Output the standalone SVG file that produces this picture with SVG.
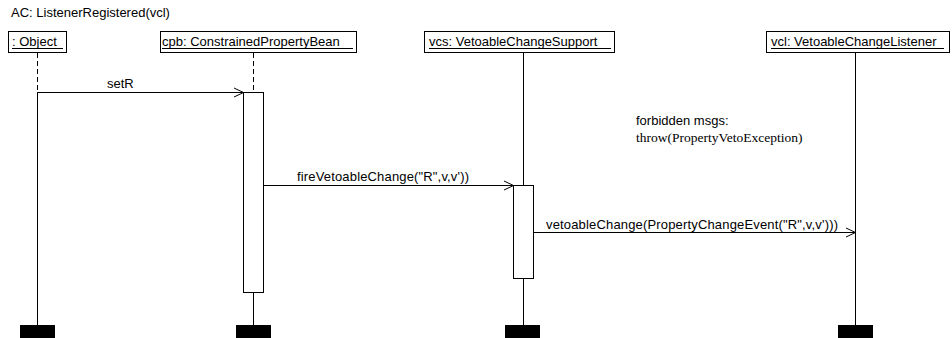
<svg xmlns="http://www.w3.org/2000/svg" width="952" height="338" viewBox="0 0 952 338">
<style>
text{font-family:"Liberation Sans",Arial,sans-serif;font-size:13px;fill:#000}
.serif{font-family:"Liberation Serif","Times New Roman",serif;font-size:13.5px}
.box{fill:#fff;stroke:#000;stroke-width:1}
.ul{stroke:#000;stroke-width:1}
.life{stroke:#000;stroke-width:1;fill:none}
.dash{stroke-dasharray:5,3}
.act{fill:#fff;stroke:#000;stroke-width:1}
.bar{fill:#000}
.msg{stroke:#000;stroke-width:1;fill:none}
</style>
<text x="11" y="17">AC: ListenerRegistered(vcl)</text>

<g id="lifelines">
<line class="life dash" x1="37.5" y1="53" x2="37.5" y2="92"/>
<line class="life" x1="37.5" y1="92" x2="37.5" y2="325"/>
<line class="life dash" x1="253.5" y1="53" x2="253.5" y2="92"/>
<line class="life" x1="253.5" y1="292" x2="253.5" y2="325"/>
<line class="life" x1="523.5" y1="53" x2="523.5" y2="185"/>
<line class="life" x1="523.5" y1="278" x2="523.5" y2="325"/>
<line class="life" x1="855.5" y1="53" x2="855.5" y2="325"/>
</g>

<g id="obj">
<rect class="box" x="8.5" y="31.5" width="58" height="21"/>
<text x="12" y="46">: Object</text>
<line class="ul" x1="12" y1="48.5" x2="63" y2="48.5"/>
<rect class="bar" x="20" y="325" width="35" height="13"/>
</g>

<g id="cpb">
<rect class="box" x="160.5" y="31.5" width="196" height="21"/>
<text x="162" y="46">cpb: ConstrainedPropertyBean</text>
<line class="ul" x1="162" y1="48.5" x2="353" y2="48.5"/>
<rect class="act" x="243.5" y="92.5" width="20" height="200"/>
<rect class="bar" x="236" y="325" width="35" height="13"/>
</g>

<g id="vcs">
<rect class="box" x="424.5" y="31.5" width="190" height="21"/>
<text x="429" y="46">vcs: VetoableChangeSupport</text>
<line class="ul" x1="429" y1="48.5" x2="611" y2="48.5"/>
<rect class="act" x="513.5" y="185.5" width="20" height="93"/>
<rect class="bar" x="505" y="325" width="35" height="13"/>
</g>

<g id="vcl">
<rect class="box" x="766.5" y="31.5" width="183" height="21"/>
<text x="771" y="46">vcl: VetoableChangeListener</text>
<line class="ul" x1="771" y1="48.5" x2="944" y2="48.5"/>
<rect class="bar" x="838" y="325" width="35" height="13"/>
</g>

<g id="note">
<text x="636" y="125">forbidden msgs:</text>
<text class="serif" x="636" y="142">throw(PropertyVetoException)</text>
</g>

<g id="connectors">
<line class="msg" x1="37.5" y1="92.5" x2="243.5" y2="92.5"/>
<polyline class="msg" points="234,88 243.5,92.5 234,97"/>
<text x="107" y="88">setR</text>

<line class="msg" x1="263.5" y1="185.5" x2="513.5" y2="185.5"/>
<polyline class="msg" points="504,181 513.5,185.5 504,190"/>
<text x="297" y="181" textLength="172" lengthAdjust="spacing">fireVetoableChange("R",v,v'))</text>

<line class="msg" x1="533.5" y1="232.5" x2="855.5" y2="232.5"/>
<polyline class="msg" points="846,228 855.5,232.5 846,237"/>
<text x="546" y="229" textLength="292" lengthAdjust="spacing">vetoableChange(PropertyChangeEvent("R",v,v')))</text>
</g>
</svg>
